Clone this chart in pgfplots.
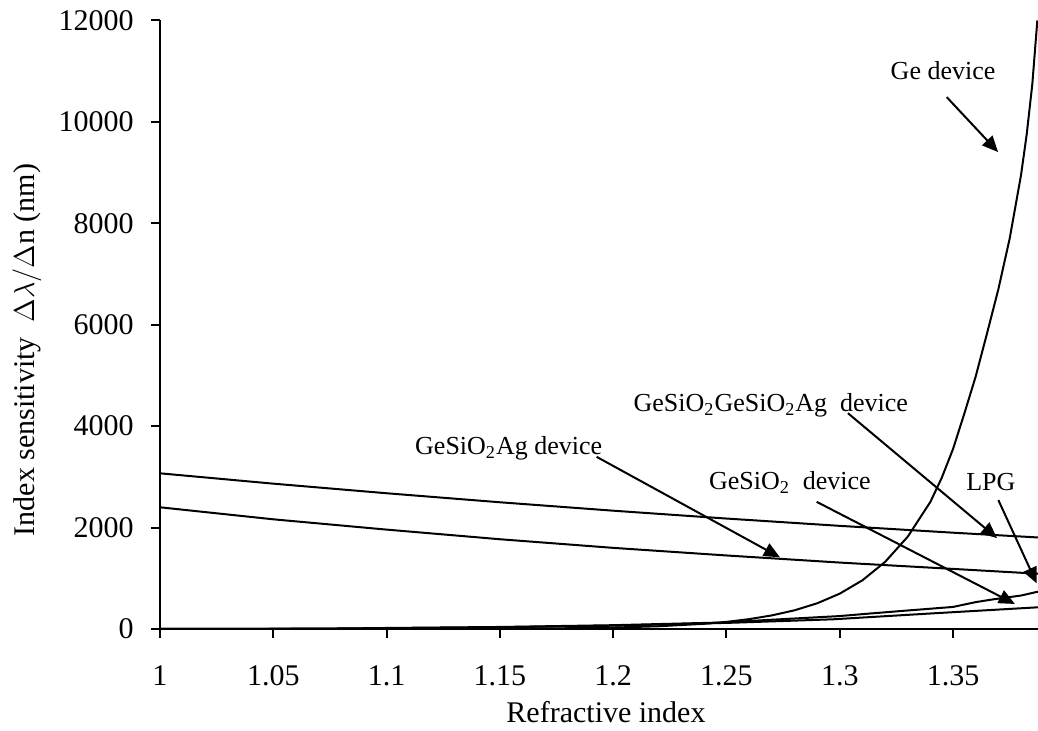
\documentclass[border=0pt]{standalone}
\usepackage{fontspec}
\setmainfont{Liberation Serif}
\usepackage{pgfplots}
\pgfplotsset{compat=1.18}
\usetikzlibrary{arrows.meta,calc}
\begin{document}
\begin{tikzpicture}
\begin{axis}[
  name=ax,
  scale only axis, width=439pt, height=304.25pt,
  xmin=1, xmax=1.3875, ymin=0, ymax=12000,
  axis x line*=bottom, axis y line*=left,
  axis line style={line width=1pt, black},
  xtick={1,1.05,1.1,1.15,1.2,1.25,1.3,1.35},
  xticklabels={1,1.05,1.1,1.15,1.2,1.25,1.3,1.35},
  ytick={0,2000,4000,6000,8000,10000,12000},
  yticklabels={0,2000,4000,6000,8000,10000,12000},
  scaled ticks=false,
  tick align=outside, major tick length=4.5pt,
  tick style={black, line width=1pt},
  tick label style={font=\fontsize{15}{18}\selectfont, inner sep=0pt},
  xticklabel style={anchor=base, yshift=-23.8pt},
  yticklabel style={anchor=east, xshift=-8.5pt},
  /pgf/number format/assume math mode=true,
  xlabel={Refractive index},
  ylabel={Index sensitivity\ \ $\Delta\lambda/\Delta$n\ (nm)},
  xlabel style={font=\fontsize{15}{18}\selectfont, at={(axis description cs:0.508,-0.1364)}, anchor=center},
  ylabel style={font=\fontsize{15}{18}\selectfont, at={(axis description cs:-0.1515,0.4585)}, anchor=center},
  clip=false,
]
% GeSiO2GeSiO2Ag device (upper line)
\addplot[black, line width=1pt] coordinates {(1.00,3070) (1.05,2866) (1.10,2677) (1.15,2499) (1.20,2333) (1.25,2178) (1.30,2034) (1.35,1899) (1.3875,1805)};
% GeSiO2Ag device
\addplot[black, line width=1pt] coordinates {(1.00,2400) (1.05,2163) (1.10,1960) (1.15,1770) (1.20,1600) (1.25,1450) (1.30,1310) (1.35,1185) (1.3875,1090)};
% Ge device
\addplot[black, line width=1pt] coordinates {(1.00,0) (1.10,1) (1.15,6) (1.18,15) (1.20,28) (1.22,54) (1.24,102) (1.25,140) (1.26,194) (1.27,268) (1.28,368) (1.29,506) (1.30,697) (1.31,960) (1.32,1322) (1.33,1820) (1.34,2507) (1.345,2980) (1.35,3550) (1.355,4250) (1.36,4980) (1.365,5830) (1.37,6700) (1.375,7700) (1.38,8950) (1.3825,9750) (1.385,10750) (1.3872,12000)};
% GeSiO2 device
\addplot[black, line width=1pt] coordinates {(1.00,0) (1.05,5) (1.08,10) (1.10,20) (1.15,40) (1.20,75) (1.25,130) (1.2677,177) (1.30,255) (1.3119,300) (1.33,365) (1.35,435) (1.36,530) (1.3678,585) (1.38,660) (1.3875,736)};
% LPG
\addplot[black, line width=1pt] coordinates {(1.00,0) (1.05,3) (1.10,15) (1.15,35) (1.20,65) (1.253,124) (1.297,191) (1.3413,309) (1.3875,428)};

\tikzset{ann/.style={font=\fontsize{13}{15}\selectfont, inner sep=0pt, anchor=center},
         arr/.style={line width=1pt, -{Triangle[length=8pt,width=7pt]}}}
\node[ann] at (axis cs:1.3456,11015) {Ge device};
\node[ann] at (axis cs:1.2696,4414) {GeSiO\textsubscript{2}GeSiO\textsubscript{2}Ag\ \ device};
\node[ann] at (axis cs:1.1539,3567) {GeSiO\textsubscript{2}Ag device};
\node[ann] at (axis cs:1.2780,2897) {GeSiO\textsubscript{2}\ \ device};
\node[ann] at (axis cs:1.3667,2897) {LPG};
\draw[arr] (axis cs:1.3472,10489) -- (axis cs:1.3699,9405);
\draw[arr] (axis cs:1.3036,4256) -- (axis cs:1.3694,1793);
\draw[arr] (axis cs:1.1927,3395) -- (axis cs:1.2736,1413);
\draw[arr] (axis cs:1.2898,2508) -- (axis cs:1.3773,493);
\draw[arr] (axis cs:1.3700,2542) -- (axis cs:1.3869,900);
\end{axis}
\pgfresetboundingbox
\useasboundingbox ($(ax.south west)+(-80pt,-51pt)$) rectangle ++(519pt,365.5pt);
\end{tikzpicture}
\end{document}
